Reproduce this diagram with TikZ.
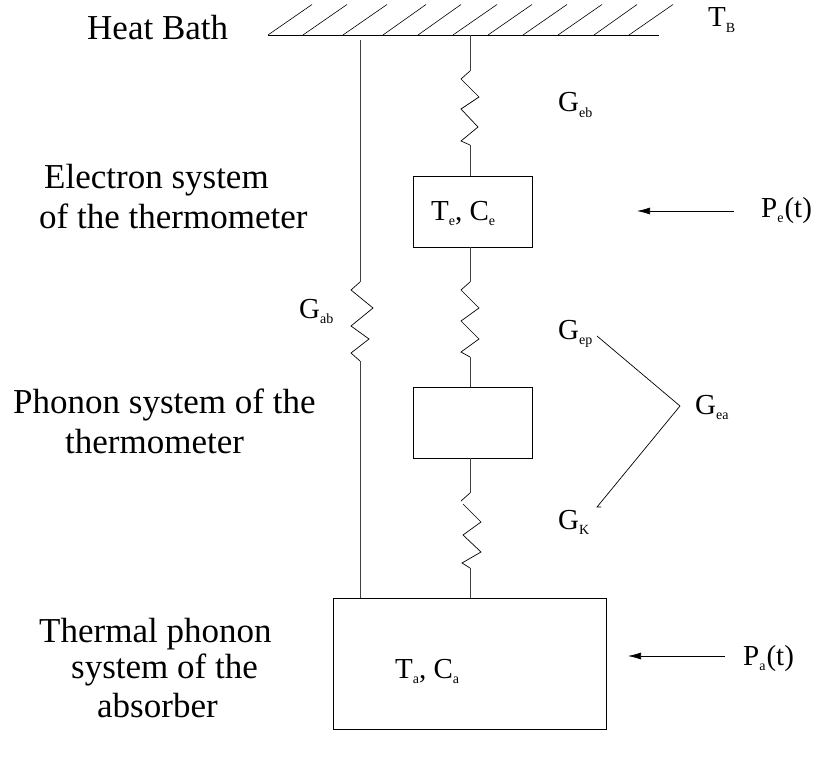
\documentclass[tikz,border=0pt]{standalone}
\usepackage{fontspec}
\setmainfont{Liberation Serif}
\usetikzlibrary{arrows.meta}
\newcommand{\lbl}[2]{#1\raisebox{-0.2em}{\fontsize{14}{14}\selectfont #2}}
\tikzset{
  wire/.style={draw=black!75!white,line width=0.8pt},
  thinline/.style={draw=black,line width=0.7pt,line join=miter},
  boxnode/.style={draw=black,line width=0.8pt,inner sep=0pt,minimum width=119pt},
  big/.style={font=\fontsize{35}{40}\selectfont,align=center,inner sep=0pt},
  sym/.style={font=\fontsize{29}{32}\selectfont,inner sep=0pt,anchor=base west},
  inarrow/.style={thinline,-{Latex[length=13pt,width=7pt]}}
}
\begin{document}
\begin{tikzpicture}[x=1pt,y=-1pt]
\useasboundingbox (0,0) rectangle (815,760);
% bath
\coordinate (bathL) at (268,35);
\coordinate (bathR) at (659,35);
\draw[thinline] (bathL) -- (bathR);
\foreach \a/\b in {268/312,303/347,343/387,383/426,418/461,453/497,488/532,523/567,558/602,594/637,629/673}
  \draw[thinline,line width=0.6pt] (\a,35) -- (\b,4.5);
\coordinate (bathA) at (470,35);
\coordinate (leftTop) at (360,40);
% boxes
\node[boxnode,minimum height=70.5pt,anchor=north west] (boxE) at (413,176) {};
\node[boxnode,minimum height=71pt,anchor=north west] (boxP) at (413,387) {};
\node[boxnode,minimum width=273pt,minimum height=131pt,anchor=north west] (boxA) at (333,598) {};
\coordinate (eTop) at (470,176);
\coordinate (eBot) at (470,246.5);
\coordinate (pTop) at (470,387);
\coordinate (pBot) at (470,458);
\coordinate (aTop) at (470,598);
\coordinate (aLeft) at (360,598);
% left wire
\draw[wire] (leftTop) -- (360,282);
\draw[thinline] (360,282) -- (351,290) -- (373,308) -- (351,326) -- (369,339) -- (351,353) -- (360,361);
\draw[wire] (360,361) -- (aLeft);
% Geb
\draw[wire] (bathA) -- (470,71);
\draw[thinline] (470,71) -- (461,79) -- (479,97) -- (461,109) -- (478,127) -- (461,141) -- (470,145);
\draw[wire] (470,145) -- (eTop);
% Gep
\draw[wire] (eBot) -- (470,282);
\draw[thinline] (470,282) -- (461,290) -- (479,308) -- (461,321) -- (479,339) -- (461,352) -- (470,357);
\draw[wire] (470,357) -- (pTop);
% GK
\draw[wire] (pBot) -- (470,493);
\draw[thinline] (470,493) -- (461,501);
\draw[thinline] (463,504) -- (481,522) -- (463,535) -- (481,552) -- (462,563) -- (470,568);
\draw[wire] (470,568) -- (aTop);
% brace
\coordinate (gepEnd) at (597,336);
\coordinate (gea) at (680,406);
\coordinate (gkEnd) at (597,507);
\draw[thinline] (gepEnd) -- (gea) -- (gkEnd) -- (601,507);
% arrows
\coordinate (peS) at (734,211);
\coordinate (peE) at (637,211);
\coordinate (paS) at (725,656);
\coordinate (paE) at (628,656);
\draw[inarrow] (peS) -- (peE);
\draw[inarrow] (paS) -- (paE);
% labels
\node[big,anchor=base west] (heat) at (87,40) {Heat Bath};
\node[big,anchor=base west] (el1) at (44,189) {Electron system};
\node[big,anchor=base west] (el2) at (39,228) {of the thermometer};
\node[big,anchor=base west] (ph1) at (13,413) {Phonon system of the};
\node[big,anchor=base west] (ph2) at (65,453) {thermometer};
\node[big,anchor=base west] (th1) at (39,642) {Thermal phonon};
\node[big,anchor=base west] (th2) at (71,678) {system of the};
\node[big,anchor=base west] (th3) at (97,717) {absorber};
\node[sym] (tb) at (708,27) {\lbl{T}{B}};
\node[sym] (geb) at (558,112) {\lbl{G}{eb}};
\node[sym] (te) at (431,220) {\lbl{T}{e}, \lbl{C}{e}};
\node[sym] (pe) at (761,217) {\lbl{P}{e}\hspace{1pt}(t)};
\node[sym] (gab) at (299,318) {\lbl{G}{ab}};
\node[sym] (gep) at (558,339) {\lbl{G}{ep}};
\node[sym] (gea2) at (695,414) {\lbl{G}{ea}};
\node[sym] (gk) at (558,529) {\lbl{G}{K}};
\node[sym] (ta) at (395,678) {\lbl{T}{a}, \lbl{C}{a}};
\node[sym] (pa) at (743,665) {\lbl{P}{a}\hspace{1pt}(t)};
\end{tikzpicture}
\end{document}
